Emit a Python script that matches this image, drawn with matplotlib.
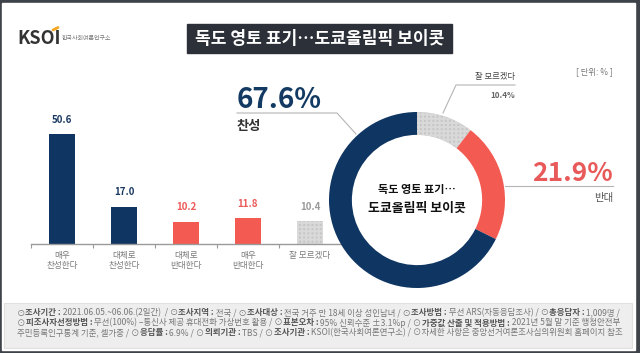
import matplotlib
matplotlib.use('Agg')
import matplotlib.pyplot as plt
from matplotlib.patches import Rectangle
import numpy as np

plt.rcParams['font.family'] = ['Noto Sans CJK KR', 'DejaVu Sans']
plt.rcParams['hatch.linewidth'] = 1.5

# ---------------- data ----------------
categories = ['매우\n찬성한다', '대체로\n찬성한다', '대체로\n반대한다', '매우\n반대한다', '잘 모르겠다']
bar_values = [50.6, 17.0, 10.2, 11.8, 10.4]
bar_labels = ['50.6', '17.0', '10.2', '11.8', '10.4']
donut_labels = ['잘 모르겠다', '반대', '찬성']
donut_values = [10.4, 21.9, 67.6]
donut_value_labels = ['10.4%', '21.9%', '67.6%']
title = '독도 영토 표기…도쿄올림픽 보이콧'
center_lines = ['독도 영토 표기…', '도쿄올림픽 보이콧']
unit_text = '[ 단위: % ]'
footer_lines = [
    "⊙*조사기간 :* 2021.06.05.~06.06.(2일간)  / ⊙*조사지역 :* 전국 / ⊙*조사대상 :* 전국 거주 만 18세 이상 성인남녀 / ⊙*조사방법 :* 무선 ARS(자동응답조사) / ⊙*총응답자 :* 1,009명 /",
    "⊙*피조사자선정방법 :* 무선(100%) –통신사 제공 휴대전화 가상번호 활용 / ⊙*표본오차 :* 95% 신뢰수준 ±3.1%p / ⊙*가중값 산출 및 적용방법 :* 2021년 5월 말 기준 행정안전부",
    "주민등록인구통계 기준, 셀가중 / ⊙*응답률 :* 6.9% / ⊙*의뢰기관 :* TBS / ⊙*조사기관 :* KSOI(한국사회여론연구소) / ⊙자세한 사항은 중앙선거여론조사심의위원회 홈페이지 참조",
]

NAVY = '#0f3562'
RED = '#f35a52'
GRAY = '#c6c6c6'
HATCH = '#d9d9d9'

W, H = 640, 353
fig = plt.figure(figsize=(6.4, 3.53), dpi=100, facecolor='#3e4249')


def px2fig(x0, y0, x1, y1):
    return [x0 / W, 1 - y1 / H, (x1 - x0) / W, (y1 - y0) / H]


# background panel
bg = fig.add_axes([0, 0, 1, 1], zorder=0)
bg.set_xlim(0, W); bg.set_ylim(H, 0); bg.axis('off')
bg.add_patch(Rectangle((2, 3), 633, 347, color='white'))
bg.add_patch(Rectangle((4, 303), 628, 45, facecolor='#eeeeee', edgecolor='#e0e0e0', lw=0.8))

# ---------------- bar chart ----------------
axb = fig.add_axes(px2fig(31, 100, 341, 244), zorder=2)
axb.patch.set_alpha(0)
x = np.arange(len(bar_values))
bar_colors = [NAVY, NAVY, RED, RED, GRAY]
bars = axb.bar(x, bar_values, width=0.43, color=bar_colors, linewidth=0)
bars[4].set_hatch('++++')
bars[4].set_edgecolor(HATCH)
bars[4].set_linewidth(0)
label_colors = ['#1b3a63', '#1b3a63', '#ec5a5a', '#ec5a5a', '#9a9a9a']
for xi, v, lab, c in zip(x, bar_values, bar_labels, label_colors):
    axb.annotate(lab, (xi, v), xytext=(0, 7), textcoords='offset points',
                 ha='center', va='bottom', fontsize=7, weight='bold', color=c)
axb.set_xlim(-0.5, 4.5)
axb.set_ylim(0, 66.4)
for s in ['top', 'right', 'left']:
    axb.spines[s].set_visible(False)
axb.spines['bottom'].set_color('#9a9a9a')
axb.spines['bottom'].set_linewidth(1.0)
axb.set_yticks([])
axb.set_xticks(x)
axb.set_xticklabels(categories, fontsize=6.2, color='#7a7a7a', linespacing=1.2)
axb.tick_params(axis='x', which='major', length=0, pad=5)
axb.set_xticks(np.arange(-0.5, 4.0, 1.0), minor=True)
axb.tick_params(axis='x', which='minor', length=3, color='#9a9a9a', width=0.8)

# ---------------- donut ----------------
cx, cy, R = 417, 200, 88
axd = fig.add_axes(px2fig(cx - R, cy - R, cx + R, cy + R), zorder=3)
wedges, _ = axd.pie(donut_values, startangle=90, counterclock=False,
                    colors=[GRAY, RED, NAVY], radius=1,
                    wedgeprops=dict(width=0.26, linewidth=0))
wedges[0].set_hatch('++++')
wedges[0].set_edgecolor(HATCH)
wedges[0].set_linewidth(0)
axd.set_xlim(-1, 1); axd.set_ylim(-1, 1)
axd.text(0, 0.12, center_lines[0], ha='center', va='center', fontsize=8, weight='bold', color='#111')
axd.text(0, -0.09, center_lines[1], ha='center', va='center', fontsize=9.3, weight='bold', color='#111')

# ---------------- overlay text ----------------
ov = fig.add_axes([0, 0, 1, 1], zorder=4)
ov.set_xlim(0, W); ov.set_ylim(H, 0); ov.axis('off')
ov.patch.set_alpha(0)

# logo
ov.text(17, 38, 'KSOI', fontsize=13, weight='bold', color='#333333', ha='left', va='center')
ov.plot([53, 58], [30, 27.5], color='#f5a623', lw=2, solid_capstyle='round')
ov.text(62, 39, '한국사회여론연구소', fontsize=4.3, color='#777777', ha='left', va='center')

# title box
ov.add_patch(Rectangle((187, 24), 265, 29, color='#2c3038'))
ov.text(319.5, 38.5, title, fontsize=12.3, weight='bold', color='white', ha='center', va='center')

# unit
ov.text(594, 72, unit_text, fontsize=6, color='#777777', ha='center', va='center')

LC = '#b5b5b5'
# 찬성 label
ov.plot([237, 337, 356], [113, 113, 134], color=LC, lw=0.8)
ov.text(237, 108, donut_value_labels[2], fontsize=20, weight='bold', color='#133a63', ha='left', va='baseline')
ov.text(237, 126, donut_labels[2], fontsize=9.5, weight='bold', color='#333333', ha='left', va='center')

# 반대 label
ov.plot([505, 613], [186, 186], color=LC, lw=0.8)
ov.text(613, 181, donut_value_labels[1], fontsize=19, weight='bold', color='#e85a5a', ha='right', va='baseline')
ov.text(613, 198, donut_labels[1], fontsize=7.5, color='#555555', ha='right', va='center')

# 잘 모르겠다 label
ov.plot([443, 456, 515], [113, 85, 85], color=LC, lw=0.8)
ov.text(515, 77, donut_labels[0], fontsize=6, color='#444444', ha='right', va='center')
ov.text(515, 95, donut_value_labels[0], fontsize=5.8, weight='bold', color='#666666', ha='right', va='center')

# footer with mixed bold segments
renderer = fig.canvas.get_renderer()


def draw_line(text, x0, y, fs):
    parts = text.split('*')
    xx = x0
    arts = []
    for i, p in enumerate(parts):
        if not p:
            continue
        bold = (i % 2 == 1)
        t = ov.text(xx, y, p, fontsize=fs, weight='bold' if bold else 'normal',
                    color='#555555' if bold else '#777777', ha='left', va='center')
        bb = t.get_window_extent(renderer)
        xx += bb.width
        arts.append(t)
    return xx - x0, arts


targets = [600, 603, 608]
ys = [313, 323, 333]
for line, tw, y in zip(footer_lines, targets, ys):
    w, arts = draw_line(line, 17, y, 5.0)
    for a in arts:
        a.remove()
    draw_line(line, 17, y, 5.0 * tw / w)

fig.savefig('out.png', dpi=100, facecolor=fig.get_facecolor())
